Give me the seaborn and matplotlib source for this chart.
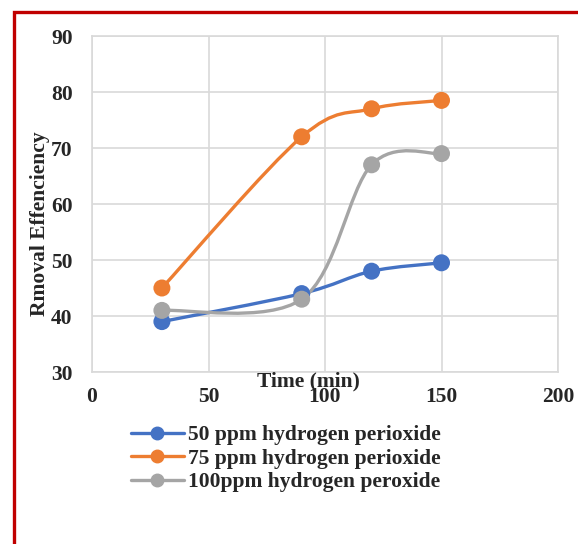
import numpy as np
import pandas as pd
import matplotlib
matplotlib.use("Agg")
import matplotlib.pyplot as plt
from matplotlib.path import Path
from matplotlib.patches import PathPatch
from matplotlib.lines import Line2D
import seaborn as sns

# data
time_min = [30, 90, 120, 150]
ppm50 = [39, 44, 48, 49.5]
ppm75 = [45, 72, 77, 78.5]
ppm100 = [41, 43, 67, 69]
series_names = ["50 ppm hydrogen perioxide", "75 ppm hydrogen perioxide", "100ppm hydrogen peroxide"]
colores = ["#4472C4", "#ED7D31", "#A5A5A5"]


def curva_suave(x, y):
    # smoothed line like Excel: cubic bezier segments (Catmull-Rom style)
    p = np.column_stack([x, y]).astype(float)
    n = len(p)
    verts = [p[0]]
    codes = [Path.MOVETO]
    for i in range(n - 1):
        p_prev = p[i - 1] if i > 0 else p[i]
        p_next = p[i + 2] if i + 2 < n else p[i + 1]
        c1 = p[i] + (p[i + 1] - p_prev) / 6.0
        c2 = p[i + 1] - (p_next - p[i]) / 6.0
        verts += [c1, c2, p[i + 1]]
        codes += [Path.CURVE4] * 3
    return Path(verts, codes)


df = pd.DataFrame({
    "time": time_min * 3,
    "eff": ppm50 + ppm75 + ppm100,
    "serie": sum([[s] * len(time_min) for s in series_names], []),
})

sns.set_theme(style="white")
plt.rcParams["font.family"] = ["Liberation Serif", "DejaVu Serif"]
plt.rcParams["font.weight"] = "bold"

fs = 15.5
fig = plt.figure(figsize=(5.78, 5.44), dpi=100)
ax = fig.add_axes([92 / 578, 172 / 544, 466 / 578, 336 / 544])

for nombre, col, yv in zip(series_names, colores, [ppm50, ppm75, ppm100]):
    ax.add_patch(PathPatch(curva_suave(time_min, yv), facecolor="none", edgecolor=col,
                           lw=2.4, capstyle="round", zorder=3))

sns.scatterplot(data=df, x="time", y="eff", hue="serie", palette=colores, s=150,
                edgecolor="none", legend=False, ax=ax, zorder=4)

ax.set_xlim(0, 200)
ax.set_ylim(30, 90)
ax.set_xticks([0, 50, 100, 150, 200])
ax.set_yticks(range(30, 91, 10))
ax.grid(True, color="#D9D9D9", lw=1.2)
for s in ax.spines.values():
    s.set_color("#D9D9D9")
    s.set_linewidth(1.2)
ax.tick_params(axis="both", length=0, labelsize=fs)
ax.tick_params(axis="y", pad=14)
ax.tick_params(axis="x", pad=11)
for lab in ax.get_xticklabels() + ax.get_yticklabels():
    lab.set_fontweight("bold")
ax.set_xlabel("")
ax.set_ylabel("")

# x label sits on top of the tick labels, as in the original
fig.text(308 / 578, 1 - 381 / 544, "Time (min)", ha="center", va="center",
         fontsize=fs, fontweight="bold")
fig.text(40 / 578, 1 - 224 / 544, "Rmoval Effenciency", ha="center", va="center",
         rotation=90, fontsize=fs, fontweight="bold")

handles = [Line2D([0], [0], color=c, lw=2.4, marker="o", markersize=9) for c in colores]
leg = fig.legend(handles, series_names, loc="upper left",
                 bbox_to_anchor=(131 / 578, 1 - 425 / 544), frameon=False,
                 fontsize=fs, handlelength=2.45, handletextpad=0.22, labelspacing=0.16,
                 borderpad=0, borderaxespad=0)
for t in leg.get_texts():
    t.set_fontweight("bold")

# red frame of the original figure (only left and top are visible)
fig.add_artist(Line2D([14 / 578, 14 / 578, 1.0], [0.0, 1 - 12 / 544, 1 - 12 / 544],
                      color="#C00000", lw=2.4, transform=fig.transFigure,
                      solid_joinstyle="miter"))

fig.savefig("out.png", dpi=100)
